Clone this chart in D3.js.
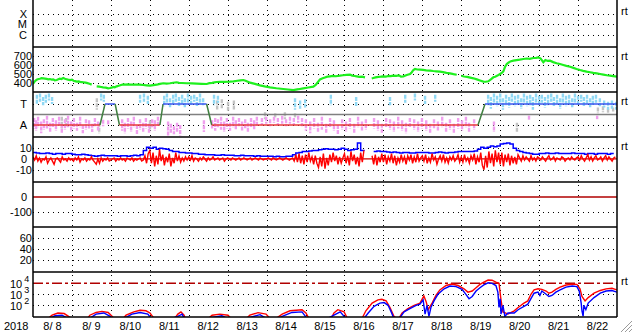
<!DOCTYPE html>
<html><head><meta charset="utf-8">
<script src="https://cdn.jsdelivr.net/npm/d3@7"></script>
<style>
html,body{margin:0;padding:0;background:#fff;}
svg{display:block;font-family:"Liberation Sans",Arial,sans-serif;}
</style></head><body>
<svg id="chart" width="633" height="334"></svg>
<script>
// ---------------- DATA ----------------
const yearLabel = "2018";
const dayLabels = ["8/ 8","8/ 9","8/10","8/11","8/12","8/13","8/14","8/15","8/16","8/17","8/18","8/19","8/20","8/21","8/22"];
const xrayLevels = [["X",1e-4],["M",1e-5],["C",1e-6]];
const speedTicks = [400,500,600,700];
const sectorTicks = [["T",270],["A",90]];
const bTicks = [10,0,-10];
const dstTicks = [0,-100];
const kpTicks = [60,40,20];
const fluxTicks = [4,3,2];
const fluxAlert = 1e4;
const rtPanels = [0,1,2,3,6];

// solar wind speed [day, km/s]  (null = gap)
const speedData = [
[0,389],[0.05,420],[0.095,437],[0.14,444],[0.18,447],[0.22,455],[0.265,452],[0.31,449],[0.35,446],[0.39,441],[0.437,444],[0.48,437],[0.52,440],[0.56,430],[0.609,433],[0.65,441],[0.69,448],[0.73,444],[0.778,455],[0.82,447],[0.86,442],[0.9,437],[0.95,433],[1.0,438],[1.04,425],[1.08,421],[1.123,415],[1.17,417],[1.21,412],[1.25,410],[1.292,408],[1.35,404],[1.4,398],[1.45,392],[1.508,382],[1.55,null],
[1.636,363],[1.7,360],[1.75,356],[1.8,352],[1.87,349],[1.93,340],[1.978,344],[2.02,348],[2.06,356],[2.1,352],[2.15,363],[2.2,370],[2.26,378],[2.32,385],[2.38,382],[2.44,384],[2.492,381],[2.57,383],[2.66,381],[2.74,382],[2.833,378],[2.92,374],[3.005,370],[3.09,376],[3.178,381],[3.26,390],[3.347,397],[3.43,394],[3.519,397],[3.6,403],[3.691,408],[3.75,402],[3.82,400],[3.948,397],[4.08,395],[4.205,393],[4.33,391],[4.462,389],[4.53,398],[4.6,402],[4.66,407],[4.719,411],[4.8,414],[4.9,412],[5.06,415],[5.15,419],[5.25,425],[5.33,430],[5.402,433],[5.46,425],[5.52,414],[5.574,404],[5.7,390],[5.831,374],[5.95,362],[6.088,352],[6.25,342],[6.43,333],[6.55,328],[6.686,322],[6.82,331],[6.943,341],[7.07,350],[7.2,359],[7.26,378],[7.3,400],[7.372,440],[7.44,452],[7.5,462],[7.56,470],[7.629,474],[7.7,478],[7.78,475],[7.886,481],[7.96,486],[8.05,490],[8.143,492],[8.2,482],[8.26,478],[8.315,474],[8.38,468],[8.45,470],[8.528,463],[8.56,null],
[8.70,450],[8.741,455],[8.8,462],[8.87,468],[8.93,470],[8.998,474],[9.06,470],[9.13,478],[9.19,476],[9.255,481],[9.33,479],[9.4,484],[9.45,470],[9.512,474],[9.6,488],[9.684,500],[9.73,520],[9.77,545],[9.812,556],[9.87,550],[9.941,548],[10.02,545],[10.1,540],[10.198,537],[10.28,533],[10.36,530],[10.455,526],[10.53,520],[10.62,512],[10.712,507],[10.8,498],[10.884,492],[10.92,null],
[11.0,480],[11.07,472],[11.15,468],[11.23,460],[11.31,452],[11.4,440],[11.48,428],[11.567,415],[11.63,414],[11.696,419],[11.76,440],[11.824,463],[11.87,470],[11.93,482],[11.996,500],[12.04,512],[12.081,530],[12.12,575],[12.168,611],[12.21,625],[12.26,640],[12.338,648],[12.42,655],[12.5,660],[12.595,667],[12.68,672],[12.76,668],[12.852,678],[12.92,680],[12.98,685],[13.04,672],[13.108,630],[13.16,655],[13.22,645],[13.28,648],[13.36,632],[13.45,620],[13.537,611],[13.62,600],[13.7,590],[13.794,581],[13.88,568],[13.96,556],[14.051,544],[14.13,535],[14.22,526],[14.308,519],[14.39,512],[14.48,506],[14.565,500],[14.65,493],[14.74,486],[14.822,481],[14.9,476],[15,470]
];

// IMF sector scatter streaks [day, lowAngle, highAngle]
const sectorAway = [
[0.03,60,150],[0.08,40,130],[0.13,70,160],[0.21,20,120],[0.28,50,140],[0.36,60,170],[0.44,30,110],[0.51,70,150],[0.59,40,130],[0.67,80,160],[0.74,20,100],[0.82,50,140],[0.90,70,170],[0.98,30,120],[1.05,60,150],[1.13,40,110],[1.21,70,160],[1.28,20,90],[1.36,50,140],[1.44,60,130],[1.52,30,100],[1.59,80,150],[1.67,40,120],[1.80,80,136],[1.93,90,130],
[2.29,40,140],[2.36,20,110],[2.44,60,150],[2.52,30,120],[2.59,70,160],[2.67,10,90],[2.75,50,140],[2.83,30,110],[2.90,60,150],[2.98,20,100],[3.06,70,140],[3.13,40,130],[3.21,80,160],
[3.47,0,120],[3.54,20,100],[3.62,10,80],[3.70,30,110],[3.78,0,90],[4.39,30,130],
[4.60,60,130],[4.68,40,150],[4.75,70,140],[4.83,50,160],[4.91,30,120],[4.98,60,150],[5.06,40,110],[5.14,70,160],[5.21,50,130],[5.29,80,150],[5.37,40,120],[5.45,60,140],[5.52,30,110],[5.60,70,150],[5.68,50,130],[5.75,80,160],
[5.88,90,150],[5.99,100,160],[6.09,80,140],[6.19,110,160],[6.29,90,150],[6.40,100,170],[6.50,80,140],[6.60,100,160],[6.70,90,150],[6.81,110,170],[6.91,80,150],
[7.01,40,140],[7.12,20,120],[7.22,60,150],[7.32,30,110],[7.42,50,160],[7.53,20,100],[7.63,70,150],[7.73,40,130],[7.83,10,90],[7.94,50,140],[8.04,30,120],[8.14,60,150],[8.25,20,100],[8.35,70,160],[8.45,40,120],[8.55,50,140],
[8.76,60,150],[8.86,40,130],[8.96,20,100],[9.07,70,150],[9.17,50,140],[9.27,30,120],[9.38,60,160],[9.48,40,130],[9.58,20,110],[9.68,70,150],[9.79,50,140],[9.89,30,120],[9.99,60,150],[10.10,40,130],[10.20,20,100],[10.30,60,140],[10.40,40,120],[10.51,70,160],[10.61,30,110],[10.71,50,140],[10.81,20,100],[10.92,60,150],[11.02,40,130],[11.12,70,160],[11.20,30,110],[11.33,50,140],
[11.84,30,120],[12.74,130,170],[14.49,140,170]
];
const sectorToward = [
[0.10,270,350],[0.18,290,360],[0.26,260,330],[0.33,280,350],[0.41,300,360],[0.49,270,330],[1.75,300,360],[1.82,290,350],[2.75,280,350],[2.85,290,360],[2.95,270,340],
[3.37,250,340],[3.44,280,360],[3.52,240,320],[3.60,270,350],[3.67,290,360],[3.75,250,330],[3.83,270,350],[3.90,240,320],[3.98,280,360],[4.06,260,340],[4.14,290,350],[4.21,250,330],[4.29,270,360],[4.37,260,320],
[4.65,260,350],[4.75,280,340],[6.73,220,320],[6.86,230,300],[6.99,240,310],[7.65,260,350],[8.30,250,330],[9.17,260,330],[9.56,280,350],[9.81,300,360],[10.07,270,340],[10.33,290,350],
[11.69,260,350],[11.76,230,330],[11.84,270,360],[11.92,250,340],[12.00,280,360],[12.07,220,320],[12.15,260,350],[12.23,240,330],[12.30,290,360],[12.38,250,340],[12.46,270,350],[12.54,230,320],[12.61,280,360],[12.69,250,340],[12.77,260,350],[12.84,220,330],[12.92,270,360],[13.00,250,340],[13.07,280,350],[13.15,240,330],[13.23,260,350],[13.31,290,360],[13.38,250,330],[13.46,270,350],[13.54,230,320],[13.61,280,360],[13.69,250,340],[13.77,270,350],[13.85,240,320],[13.92,280,360],[14.00,260,340],[14.08,290,350],[14.15,250,330],[14.23,270,350],[14.31,240,320],[14.38,260,340],[14.46,280,350],[14.56,250,320],[14.67,240,300],[14.77,220,290],[14.87,230,300],[14.98,220,290]
];
const sectorOther = [
[0.74,60,160],[0.85,80,150],[1.64,220,320],[1.70,20,110],[3.005,40,130],[4.73,220,300],[4.85,230,310],[5.01,210,290],[5.16,220,300],[5.96,140,200],[6.22,150,190],[6.47,140,200],[6.73,150,190],[12.43,30,110],[14.51,190,240],[14.64,200,250],[14.77,190,230],[14.90,200,240]
];
// sector polarity [day, state]
const sectorState = [[0,"A"],[1.72,"A"],[1.85,"T"],[2.11,"T"],[2.22,"A"],[3.26,"A"],[3.34,"T"],[4.46,"T"],[4.59,"A"],[11.43,"A"],[11.61,"T"],[15,"T"]];

// IMF Bz, hourly (nT)
const bzHourly = [
2,-1,3,-2,1,-3,0,-1,2,-4,-1,1,-2,-5,0,1,-1,-3,2,-1,0,-2,1,-1,
0,-2,1,-1,2,-3,0,-1,1,-2,0,-1,2,-1,-3,-5,0,-4,1,-2,0,-1,1,-2,
-1,0,1,-2,0,-1,1,-1,0,-2,1,0,-1,1,-2,0,-1,0,1,-2,-1,3,-4,5,
8,-4,6,-7,3,-5,9,-2,4,-6,2,-3,5,-7,1,-4,6,-2,3,-3,1,-2,2,-1,
2,-1,3,-2,1,0,-2,1,-1,2,0,-2,1,-1,0,2,-1,0,1,-1,0,1,-2,0,
1,0,-1,1,0,-1,0,1,-1,0,1,0,-1,0,1,-1,0,1,0,-1,1,0,-1,0,
0,1,0,-1,1,0,-1,0,1,0,-1,0,1,0,-1,0,1,-2,4,-3,5,-4,3,-5,
4,-3,6,-2,2,-5,3,-4,-8,2,-7,5,-9,1,-6,4,-3,6,-2,3,-5,2,-4,1,
5,-4,3,-6,7,-2,4,-5,2,-7,6,-3,8,null,null,null,null,3,-5,4,-6,2,-3,5,
-3,4,-5,2,-2,5,-4,3,-6,1,-3,4,-2,2,-5,3,-1,4,-4,2,-3,5,-2,1,
3,-2,4,-4,1,-3,5,-1,2,-5,0,3,-2,4,-3,1,-4,2,-1,3,-2,0,4,-3,
2,-3,4,-2,1,-4,3,-1,5,-5,2,-3,6,-6,-10,3,-8,7,-4,5,-7,8,-3,6,
-5,6,-7,4,-3,5,-6,3,-4,2,-5,4,1,-2,3,-1,2,0,-2,3,-1,1,-2,2,
1,-1,2,0,-2,1,3,-1,0,2,-2,1,0,-1,2,1,-2,0,1,-1,2,0,-1,1,
2,-1,3,0,-2,1,4,-1,2,-2,1,3,-1,0,2,-2,1,3,-1,2,0,-2,1,2
];
// IMF Bt, 2-hourly (nT)
const btTwoHourly = [
6,5.5,5,5,5.5,5,4.5,5,5,4.5,5,5,
4.5,4,4,4.5,4,3.5,3,2.5,3,3.5,3,3,
3,3,2.5,3,3,2.5,3,3.5,3,4,8,11,
10,11,9,10,9.5,9,8,7,7,6,6,5.5,
5.5,5,5,4.5,4.5,4,4,4,3.5,3.5,4,3.5,
3.5,3.5,3,3,3.5,3,3,3,2.5,3,2.5,2.5,
2.5,2.5,2,2.5,2,2,2.5,2.5,4,5.5,6,7,
7,7.5,8,8,8.5,9,9.5,9,9,8.5,9,10,
9,8,8.5,9,15,8,7.5,null,null,7,7.5,7,
7,6.5,6,6.5,6,5.5,6,6,5.5,5.5,6,6,
6,6,5.5,5.5,6,6.5,6,5.5,6,6,6.5,7,
7,7,7,7,7.5,9,11,10,11,12,11.5,12,
14,14.5,15,14,10,8,7,6,5.5,5,4.5,4.5,
5,5,5.5,5,5,5.5,5,5,5,5,5.5,5,
5,5,4.5,5,5,4.5,5,5,5,4.5,5,5
];

// >2 MeV electron flux, log10 [day, log10 flux]
const fluxRed = [
[0,0.5],[0.385,0.8],[0.49,1.1],[0.64,1.3],[0.80,1.25],[0.95,0.9],[1.05,0.5],[1.36,0.6],[1.46,1.1],[1.62,1.35],[1.77,1.45],[1.93,1.35],[2.03,1.0],[2.13,0.6],[2.29,0.7],[2.39,1.1],[2.59,1.4],[2.75,1.55],[2.90,1.5],[3.005,1.3],[3.11,0.8],[3.3,0.5],[3.62,0.7],[3.72,1.2],[3.80,1.4],[3.88,1.1],[3.93,0.6],[4.2,0.5],[4.47,0.7],[4.60,1.1],[4.80,1.2],[5.01,1.1],[5.11,0.7],[5.3,0.5],[5.45,0.7],[5.57,1.1],[5.78,1.33],[5.985,1.2],[6.09,0.8],[6.24,0.8],[6.40,1.2],[6.60,1.5],[6.76,1.55],[6.91,1.6],[7.01,1.3],[7.12,0.6],[7.4,0.5],[7.63,0.6],[7.73,1.3],[7.83,1.6],[7.99,1.4],[8.09,0.7],[8.3,0.5],[8.45,0.8],[8.55,1.5],[8.71,2.2],[8.86,2.5],[8.96,2.55],[9.07,2.4],[9.17,1.8],[9.27,1.0],[9.38,0.7],[9.48,1.3],[9.63,1.7],[9.79,2.0],[9.94,2.2],[10.04,2.85],[10.10,2.3],[10.15,1.6],[10.25,2.2],[10.35,2.9],[10.45,3.4],[10.61,3.8],[10.76,3.93],[10.92,3.8],[11.07,3.5],[11.17,3.2],[11.28,3.3],[11.38,3.6],[11.48,3.9],[11.58,4.1],[11.69,4.3],[11.79,4.28],[11.89,4.1],[11.97,4.0],[12.02,2.5],[12.07,1.4],[12.20,1.2],[12.36,1.5],[12.46,1.8],[12.61,2.2],[12.71,2.4],[12.79,3.0],[12.87,3.4],[12.97,3.5],[13.07,3.45],[13.18,3.3],[13.25,3.1],[13.33,3.2],[13.43,3.45],[13.54,3.65],[13.69,3.85],[13.85,3.92],[13.97,3.9],[14.05,3.5],[14.10,2.8],[14.18,2.4],[14.26,2.7],[14.41,3.1],[14.57,3.35],[14.72,3.5],[14.87,3.55],[15,3.4]
];
const fluxBlue = [
[0,0.5],[0.385,0.7],[0.565,1.05],[0.745,1.1],[0.90,0.8],[1.0,0.5],[1.41,0.7],[1.62,1.2],[1.82,1.3],[1.98,1.0],[2.1,0.5],[2.34,0.8],[2.54,1.2],[2.75,1.35],[2.95,1.2],[3.06,0.7],[3.3,0.5],[3.72,1.0],[3.83,1.2],[3.90,0.7],[4.3,0.5],[4.60,0.9],[4.85,1.05],[5.06,0.7],[5.3,0.5],[5.57,0.9],[5.83,1.15],[6.04,0.7],[6.2,0.6],[6.40,1.0],[6.65,1.35],[6.91,1.4],[7.06,0.7],[7.4,0.5],[7.73,1.1],[7.89,1.4],[8.04,0.8],[8.3,0.5],[8.50,0.8],[8.61,1.3],[8.76,1.9],[8.91,2.2],[9.02,2.25],[9.12,2.0],[9.20,1.4],[9.27,0.8],[9.43,0.9],[9.53,1.4],[9.68,1.7],[9.84,2.0],[9.94,2.1],[10.02,2.5],[10.07,1.2],[10.12,2.0],[10.17,1.0],[10.22,1.8],[10.30,2.4],[10.40,3.0],[10.56,3.5],[10.71,3.75],[10.87,3.7],[11.02,3.45],[11.12,3.0],[11.20,2.6],[11.28,2.8],[11.38,3.3],[11.48,3.6],[11.58,3.85],[11.69,4.05],[11.79,4.0],[11.89,3.8],[11.94,3.2],[11.97,1.8],[12.0,2.6],[12.02,1.2],[12.07,2.0],[12.12,1.0],[12.20,1.3],[12.36,1.3],[12.46,1.6],[12.61,1.9],[12.71,2.1],[12.79,2.6],[12.87,3.1],[12.97,3.2],[13.02,2.9],[13.07,3.3],[13.18,3.0],[13.25,2.8],[13.33,2.9],[13.43,3.2],[13.54,3.4],[13.69,3.65],[13.85,3.75],[13.97,3.7],[14.03,3.3],[14.08,2.2],[14.10,1.5],[14.13,1.0],[14.15,2.0],[14.20,1.6],[14.26,2.2],[14.41,2.7],[14.57,3.1],[14.72,3.3],[14.87,3.35],[15,3.2]
];

// ---------------- LAYOUT ----------------
const plotL = 33, plotR = 617, plotB = 317;
const panelTops = [2,47,92,137,182,227,272];
const panelBots = [47,92,137,182,227,272,317];
const svg = d3.select("#chart");
const x = d3.scaleLinear().domain([0,15]).range([plotL,plotR]);

const yX = d3.scaleLog().domain([Math.pow(10,-7.13),Math.pow(10,-2.9)]).range([47,2]);
const ySpeed = d3.scaleLinear().domain([300,800]).range([92,47]);
const ySector = d3.scaleLinear().domain([-13,373]).range([137,92]);
const yB = d3.scaleLinear().domain([-21.5,20.5]).range([182,137]);
const yDst = d3.scaleLinear().domain([-196,98]).range([227,182]);
const yKp = d3.scaleLinear().domain([-1.3,80.5]).range([272,227]);
const yE = d3.scaleLog().domain([Math.pow(10,0.936),Math.pow(10,5.03)]).range([317,272]);

const defs = svg.append("defs");
panelTops.forEach((t,i)=>{
  defs.append("clipPath").attr("id","clip"+i).append("rect")
    .attr("x",plotL).attr("y",t).attr("width",plotR-plotL).attr("height",panelBots[i]-t);
});
const layer = i => svg.append("g").attr("clip-path","url(#clip"+i+")");

const gridG = svg.append("g").attr("shape-rendering","crispEdges");
const px = v => Math.round(v)+0.5;
function hgrid(y){
  gridG.append("line").attr("x1",plotL).attr("x2",plotR).attr("y1",px(y)).attr("y2",px(y))
    .attr("stroke","#000").attr("stroke-width",1).attr("stroke-dasharray","1,4");
}
d3.range(1,15).forEach(d=>{
  gridG.append("line").attr("x1",px(x(d))).attr("x2",px(x(d))).attr("y1",0).attr("y2",plotB)
    .attr("stroke","#000").attr("stroke-width",1).attr("stroke-dasharray","1,4");
});
xrayLevels.forEach(l=>hgrid(yX(l[1])));
speedTicks.forEach(v=>hgrid(ySpeed(v)));
sectorTicks.forEach(v=>hgrid(ySector(v[1])));
hgrid(yB(10)); hgrid(yB(-10));
hgrid(yDst(-100));
kpTicks.forEach(v=>hgrid(yKp(v)));
hgrid(yE(1e3)); hgrid(yE(1e2));

// ---- panel 2: speed
layer(1).append("path").datum(speedData)
  .attr("fill","none").attr("stroke","#1ef01e").attr("stroke-width",2.2)
  .attr("d",d3.line().defined(d=>d[1]!==null).x(d=>x(d[0])).y(d=>ySpeed(d[1])));

// ---- panel 3: sector
const g3 = layer(2);
function streaks(arr,color){
  g3.selectAll(null).data(arr).enter().append("line")
    .attr("x1",d=>x(d[0])).attr("x2",d=>x(d[0]))
    .attr("y1",d=>ySector(d[2])).attr("y2",d=>ySector(d[1]))
    .attr("stroke",color).attr("stroke-width",2.4).attr("stroke-dasharray","4,1");
}
streaks(sectorOther,"#c4c4c4");
streaks(sectorAway,"#f0a0ee");
streaks(sectorToward,"#90d8f4");
g3.append("line").attr("x1",plotL).attr("x2",plotR).attr("y1",ySector(180)).attr("y2",ySector(180))
  .attr("stroke","#808080").attr("stroke-width",1.5);
const stVal = s => s==="T"?270:90;
for(let i=0;i<sectorState.length-1;i++){
  const a=sectorState[i], b=sectorState[i+1];
  const col = a[1]!==b[1] ? "#3f7f3f" : (a[1]==="T" ? "#3a56f0" : "#e83a3a");
  g3.append("line").attr("x1",x(a[0])).attr("x2",x(b[0]))
    .attr("y1",ySector(stVal(a[1]))).attr("y2",ySector(stVal(b[1])))
    .attr("stroke",col).attr("stroke-width",1.5);
}

// ---- panel 4: IMF
const g4 = layer(3);
g4.append("line").attr("x1",plotL).attr("x2",plotR).attr("y1",yB(0)).attr("y2",yB(0))
  .attr("stroke","#cc0000").attr("stroke-width",1.2);
g4.append("path").datum(btTwoHourly.map((v,i)=>[i/12,v]))
  .attr("fill","none").attr("stroke","#0000ff").attr("stroke-width",1.5)
  .attr("d",d3.line().defined(d=>d[1]!==null).curve(d3.curveStepAfter).x(d=>x(d[0])).y(d=>yB(d[1])));
g4.append("path").datum(bzHourly.map((v,i)=>[i/24,v]))
  .attr("fill","none").attr("stroke","#ff0000").attr("stroke-width",1.4)
  .attr("d",d3.line().defined(d=>d[1]!==null).x(d=>x(d[0])).y(d=>yB(d[1])));

// ---- panel 5: Dst zero line
layer(4).append("line").attr("x1",plotL).attr("x2",plotR).attr("y1",yDst(0)).attr("y2",yDst(0))
  .attr("stroke","#b00000").attr("stroke-width",1.5);

// ---- panel 7: electron flux
const g7 = layer(6);
g7.append("line").attr("x1",plotL).attr("x2",plotR).attr("y1",yE(fluxAlert)).attr("y2",yE(fluxAlert))
  .attr("stroke","#b00000").attr("stroke-width",1.5).attr("stroke-dasharray","10,3,3,3");
const fLine = d3.line().x(d=>x(d[0])).y(d=>yE(Math.pow(10,d[1])));
g7.append("path").datum(fluxRed).attr("fill","none").attr("stroke","#ff0000").attr("stroke-width",1.4).attr("d",fLine);
g7.append("path").datum(fluxBlue).attr("fill","none").attr("stroke","#0000ff").attr("stroke-width",1.4).attr("d",fLine);

// ---- frame
const frame = svg.append("g").attr("stroke","#000").attr("stroke-width",1.5);
panelBots.forEach(b=>frame.append("line").attr("x1",plotL).attr("x2",plotR).attr("y1",b).attr("y2",b));
frame.append("line").attr("x1",plotL).attr("x2",plotL).attr("y1",0).attr("y2",plotB);
frame.append("line").attr("x1",plotR).attr("x2",plotR).attr("y1",0).attr("y2",plotB);

// ---- labels
const txt = svg.append("g").attr("font-size","11px").attr("fill","#000");
function lab(t,xx,y,anchor){
  return txt.append("text").attr("x",xx).attr("y",y+4).attr("text-anchor",anchor||"end").text(t);
}
xrayLevels.forEach(l=>lab(l[0],27,yX(l[1])));
speedTicks.forEach(v=>lab(String(v),32,ySpeed(v)));
sectorTicks.forEach(v=>lab(v[0],27,ySector(v[1])));
bTicks.forEach(v=>lab(String(v),v===0?27:32,yB(v)));
dstTicks.forEach(v=>lab(String(v),v===0?27:32,yDst(v)));
kpTicks.forEach(v=>lab(String(v),32,yKp(v)));
fluxTicks.forEach(p=>{
  const t = txt.append("text").attr("x",10).attr("y",yE(Math.pow(10,p))+4.5);
  t.append("tspan").text("10");
  t.append("tspan").attr("dx",2).attr("dy",-6).attr("font-size","9px").text(String(p));
});
rtPanels.forEach(i=>{
  txt.append("text").attr("x",621).attr("y",panelTops[i]+13).attr("font-size","11px").text("rt");
});
dayLabels.forEach((d,i)=>{
  txt.append("text").attr("x",x(i+0.5)).attr("y",329.5).attr("text-anchor","middle")
    .style("white-space","pre").text(d);
});
txt.append("text").attr("x",4).attr("y",329.5).text(yearLabel);

// resize grip
const grip = svg.append("g").attr("stroke","#9a9a9a").attr("stroke-width",1);
[[632,321,621,332],[632,325,625,332],[632,329,629,332]].forEach(s=>{
  grip.append("line").attr("x1",s[0]).attr("y1",s[1]).attr("x2",s[2]).attr("y2",s[3]);
});
</script>
</body></html>
